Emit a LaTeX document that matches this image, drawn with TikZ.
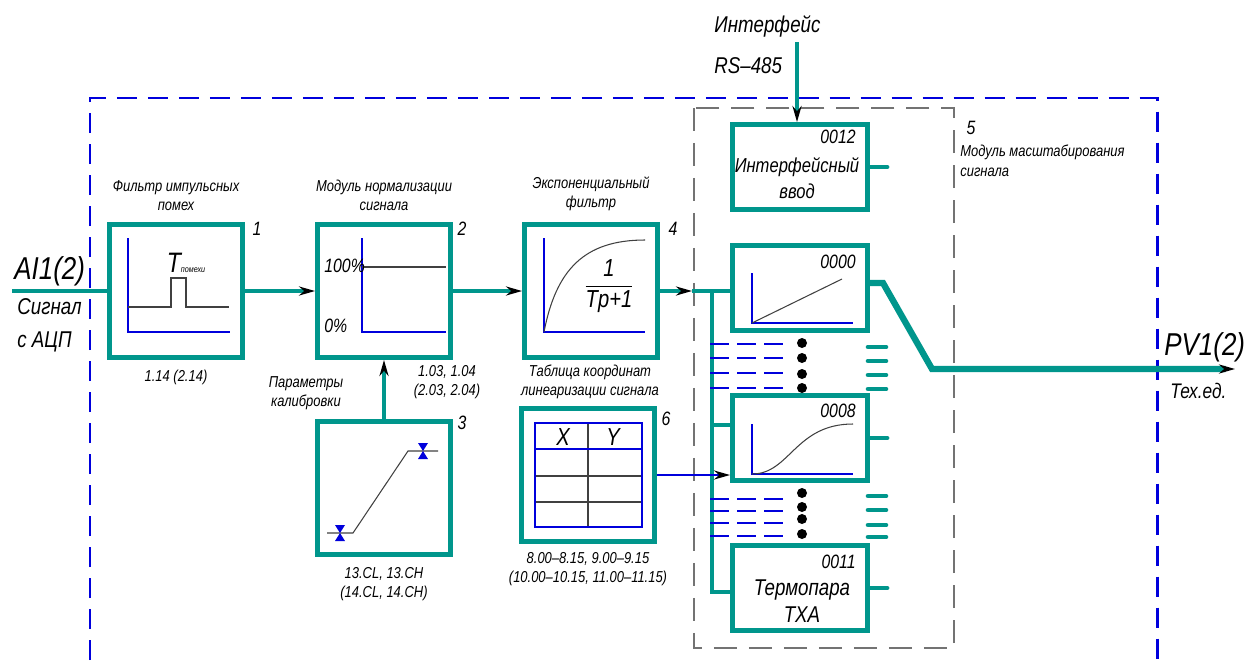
\documentclass[tikz,border=0pt]{standalone}
\usepackage{fontspec}
\setmainfont{Liberation Sans}[FakeStretch=0.82]
\usetikzlibrary{arrows.meta,positioning}
\definecolor{sigteal}{RGB}{0,150,140}
\definecolor{sigblue}{RGB}{0,0,220}
\def\clamp(#1){\fill[sigblue] (#1) ++(-5,-8) -- ++(10,0) -- ++(-10,16) -- ++(10,0) -- cycle;}
\tikzset{
  blk/.style={draw=sigteal, line width=2.8pt, minimum width=2.66cm, minimum height=2.66cm, inner sep=0pt},
  modbox/.style={blk, minimum width=2.7cm, minimum height=1.7cm},
  sig/.style={draw=sigteal, line width=2.8pt},
  sigtip/.style={-{Stealth[length=3.2mm,width=1.8mm,black]}},
  axis/.style={draw=sigblue, line width=1.6pt},
  curve/.style={draw=black!75, line width=0.6pt},
  lbl/.style={font=\itshape\fontsize{9}{11}\selectfont, align=center, inner sep=0pt},
  num/.style={font=\itshape\fontsize{11}{13}\selectfont, inner sep=0pt},
  bigtxt/.style={font=\itshape\fontsize{13}{19}\selectfont, inner sep=0pt},
  hugetxt/.style={font=\itshape\fontsize{18}{20}\selectfont, inner sep=0pt},
}

\begin{document}
\begin{tikzpicture}[x=0.02cm, y=-0.02cm]
  \useasboundingbox (0,0) rectangle (1247,660);

  % frames
  \draw[sigblue, line width=1.7pt, dash pattern=on 0.4cm off 0.22cm] (90,660) -- (90,98) -- (1157,98) -- (1157,660);
  \draw[black!55, line width=0.6pt, dash pattern=on 0.46cm off 0.24cm] (694,108) rectangle (954,648);

  % blocks
  \node[blk] (flt) at (176,291) {};
  \node[blk] (norm) at (384,291) {};
  \node[blk] (expf) at (591,291) {};
  \node[blk] (calib) at (384,488) {};
  \node[blk] (tab) at (588,475) {};
  \node[modbox] (vin) at (800,167) {};
  \node[modbox] (m0) at (800,288) {};
  \node[modbox] (m8) at (800,438) {};
  \node[modbox] (m11) at (800,588) {};

  % block titles and parameters
  \node[lbl, above=0.22cm of flt] (fltname) {Фильтр импульсных\\помех};
  \node[lbl, above=0.22cm of norm] (normname) {Модуль нормализации\\сигнала};
  \node[lbl, above=0.22cm of expf] (expname) {Экспоненциальный\\фильтр};
  \node[lbl, below=0.2cm of flt] (fltpar) {1.14 (2.14)};
  \node[lbl] (normpar) at (447,382) {1.03, 1.04\\(2.03, 2.04)};
  \node[lbl] (calname) at (306,393) {Параметры\\калибровки};
  \node[lbl] (tabname) at (590,382) {Таблица координат\\линеаризации сигнала};
  \node[lbl, below=0.2cm of calib] (calpar) {13.CL, 13.CH\\(14.CL, 14.CH)};
  \node[lbl, below=0.16cm of tab] (tabpar) {8.00--8.15, 9.00--9.15\\(10.00--10.15, 11.00--11.15)};
  \node[lbl, anchor=north west, align=left] (mscale) at (960,145) {Модуль масштабирования\\сигнала};

  \node[num] (n1) at (257,229) {1};
  \node[num] (n2) at (462,229) {2};
  \node[num] (n4) at (673,229) {4};
  \node[num] (n3) at (462,423) {3};
  \node[num] (n6) at (666,419) {6};
  \node[num] (n5) at (971,128) {5};

  % inputs / outputs
  \node[hugetxt, anchor=south west] (ain) at (14,286) {AI1(2)};
  \node[bigtxt, anchor=north west, align=left] (ainsub) at (17,298) {Сигнал\\с АЦП};
  \node[hugetxt, anchor=south west] (pv) at (1164,362) {PV1(2)};
  \node[font=\itshape\fontsize{12}{14}\selectfont, inner sep=0pt, anchor=north west] (pvsub) at (1170,383) {Тех.ед.};
  \node[bigtxt, anchor=west] (ifname) at (714,26) {Интерфейс};
  \node[bigtxt, anchor=west] (ifrs) at (714,66) {RS--485};

  % block 1
  \draw[axis] (128,238) -- (128,332) -- (230,332);
  \draw[curve] (128,307) -- (171,307) -- (171,278) -- (186,278) -- (186,307) -- (229,307);
  \node[inner sep=0pt, font=\itshape] (tpom) at (186,263) {{\fontsize{16}{16}\selectfont T}{\fontsize{5}{5}\selectfont помехи}};

  % block 2
  \draw[axis] (362,238) -- (362,332) -- (446,332);
  \draw[curve] (362,267) -- (446,267);
  \node[num, anchor=west] (p100) at (324,266) {100\%};
  \node[num, anchor=west] (p0) at (324,326) {0\%};

  % block 4
  \draw[axis] (544,238) -- (544,332) -- (645,332);
  \draw[curve] (544,332) .. controls (556,270) and (584,240) .. (645,240);
  \node[inner sep=0pt, font=\itshape\fontsize{14}{17}\selectfont] (frac) at (609,286) {\begin{tabular}{@{}c@{}}1\\\hline Tp+1\end{tabular}};

  % block 3
  \draw[curve] (327,533) -- (353,533) -- (408,451) -- (438,451);
  \clamp(340,533)
  \clamp(423,451)

  % block 6
  \draw[curve] (588,423) -- (588,527);
  \draw[curve] (535,476) -- (642,476);
  \draw[curve] (535,502) -- (642,502);
  \draw[axis] (535,423) rectangle (642,527);
  \draw[axis] (535,449) -- (642,449);
  \node[inner sep=0pt, font=\itshape\fontsize{14}{16}\selectfont] (colx) at (563,437) {X};
  \node[inner sep=0pt, font=\itshape\fontsize{14}{16}\selectfont] (coly) at (613,437) {Y};

  % scaling modules
  \node[num, anchor=east] (c12) at (856,137) {0012};
  \node[inner sep=0pt, align=center, font=\itshape\fontsize{11.5}{15}\selectfont] (vintxt) at (797,178) {Интерфейсный\\ввод};
  \draw[axis] (752,273) -- (752,323) -- (853,323);
  \draw[curve] (752,323) -- (842,279);
  \node[num, anchor=east] (c0) at (856,262) {0000};
  \draw[axis] (752,424) -- (752,474) -- (853,474);
  \draw[curve] (752,474) .. controls (790,474) and (795,424) .. (853,424);
  \node[num, anchor=east] (c8) at (856,411) {0008};
  \node[num, anchor=east] (c11) at (856,562) {0011};
  \node[inner sep=0pt, align=center, font=\itshape\fontsize{13}{15}\selectfont] (txa) at (802,601) {Термопара\\ТХА};

  % connections
  \coordinate (ainl) at (12,291);
  \draw[sig] (ainl) -- (flt.west);
  \draw[sig, sigtip] (flt.east) -- (norm.west);
  \draw[sig, sigtip] (norm.east) -- (expf.west);
  \draw[sig, sigtip] (calib.north) -- (norm.south);

  \coordinate (busin) at (692,291);
  \coordinate (bustop) at (712,291);
  \coordinate (bus8) at (712,425);
  \coordinate (busbot) at (712,592);
  \draw[sig, sigtip] (expf.east) -- (busin);
  \draw[sig] (busin) -- (bustop -| m0.west);
  \draw[sig] (bustop) -- (busbot) -- (busbot -| m11.west);
  \draw[sig] (bus8) -- (bus8 -| m8.west);
  \draw[axis, sigtip] (tab.east) -- (tab.east -| m8.west);

  \coordinate (rsin) at (797,42);
  \draw[sig, sigtip] (rsin) -- (rsin |- vin.north);

  \coordinate (o1) at (883,283);
  \coordinate (o2) at (932,369);
  \coordinate (pvout) at (1235,369);
  \draw[sig, line width=3.6pt, sigtip] (o1 -| m0.east) -- (o1) -- (o2) -- (pvout);
  \foreach \b in {vin,m8,m11}
    \draw[sig, line cap=round] (\b.east) -- ++(17,0);

  % skipped channels
  \foreach \yy in {344,358,373,388,499,511,523,536}
    \draw[sigblue, line width=1.6pt, dash pattern=on 0.38cm off 0.16cm] (710,\yy) -- (784,\yy);
  \foreach \yy in {343,358,374,388,493,507,519,534}
    \fill (802,\yy) circle (5);
  \foreach \yy in {347,361,375,389,496,510,525,537}
    \draw[sig, line width=2.6pt, line cap=round] (868,\yy) -- (886,\yy);
\end{tikzpicture}
\end{document}
